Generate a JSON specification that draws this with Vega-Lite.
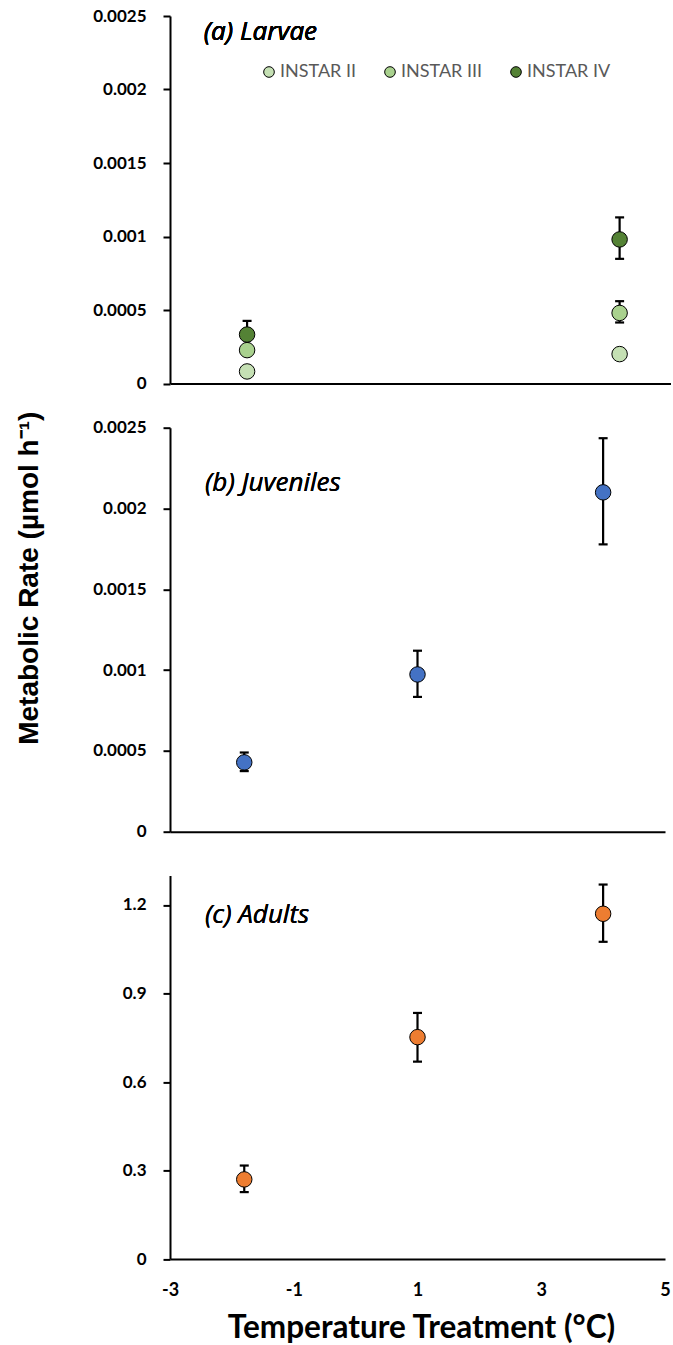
{
  "$schema": "https://vega.github.io/schema/vega-lite/v6.json",
  "background": "white",
  "padding": {"left": 15, "top": 7, "right": 0, "bottom": 0},
  "bounds": "flush",
  "spacing": 43.7,
  "config": {
    "view": {"stroke": null},
    "axis": {
      "grid": false,
      "domainColor": "#000",
      "domainWidth": 2,
      "tickColor": "#000",
      "tickWidth": 2,
      "labelFont": "Lato",
      "labelFontWeight": "bold",
      "labelColor": "#000",
      "labelFlush": false,
      "labelOverlap": false,
      "titleFont": "Lato",
      "titleColor": "#000"
    },
    "axisY": {"tickSize": 7, "labelPadding": 17, "labelFontSize": 17},
    "text": {"font": "Open Sans", "fontStyle": "italic", "fontWeight": "normal", "fontSize": 26, "color": "#000"}
  },
  "vconcat": [
    {
      "width": 501,
      "height": 367.5,
      "data": {
        "values": [
          {"stage": "INSTAR II", "temp": -1.8, "rate": 0.000082},
          {"stage": "INSTAR III", "temp": -1.8, "rate": 0.000227},
          {"stage": "INSTAR IV", "temp": -1.8, "rate": 0.000333, "lo": 0.00024, "hi": 0.000426},
          {"stage": "INSTAR II", "temp": 4, "rate": 0.0002},
          {"stage": "INSTAR III", "temp": 4, "rate": 0.00048, "lo": 0.000415, "hi": 0.00056},
          {"stage": "INSTAR IV", "temp": 4, "rate": 0.00098, "lo": 0.000848, "hi": 0.00113}
        ]
      },
      "layer": [
        {
          "transform": [{"filter": "isValid(datum.hi)"}],
          "mark": {
            "type": "errorbar",
            "color": "#000",
            "ticks": {"size": 9, "thickness": 2.2, "color": "#000", "opacity": 1},
            "rule": {"color": "#000", "strokeWidth": 2.2}
          },
          "encoding": {
            "x": {"field": "temp", "type": "quantitative", "scale": {"domain": [-3, 4.8], "nice": false, "zero": false},
                  "axis": {"labels": false, "ticks": false, "title": null}},
            "y": {"field": "lo", "type": "quantitative", "scale": {"domain": [0, 0.0025], "nice": false},
                  "axis": {"values": [0, 0.0005, 0.001, 0.0015, 0.002, 0.0025], "format": "~g", "title": null}},
            "y2": {"field": "hi"}
          }
        },
        {
          "mark": {"type": "point", "shape": "circle", "filled": true, "size": 240, "stroke": "#000", "strokeWidth": 1, "opacity": 1},
          "encoding": {
            "x": {"field": "temp", "type": "quantitative"},
            "y": {"field": "rate", "type": "quantitative"},
            "color": {
              "field": "stage", "type": "nominal",
              "scale": {"domain": ["INSTAR II", "INSTAR III", "INSTAR IV"], "range": ["#C5E0B4", "#A9D18E", "#548235"]},
              "legend": {
                "orient": "none", "legendX": 90, "legendY": 47, "direction": "horizontal", "title": null,
                "symbolType": "circle", "symbolSize": 113, "symbolStrokeColor": "#000", "symbolStrokeWidth": 1,
                "symbolOpacity": 1, "labelFont": "Lato", "labelFontSize": 18, "labelColor": "#595959",
                "labelOffset": 2, "columnPadding": 24
              }
            }
          }
        },
        {
          "mark": {"type": "text", "text": "(a) Larvae", "align": "left", "baseline": "alphabetic"},
          "encoding": {"x": {"datum": -2.475}, "y": {"datum": 0.002335}}
        }
      ]
    },
    {
      "width": 495,
      "height": 404,
      "data": {
        "values": [
          {"temp": -1.8, "rate": 0.000429, "lo": 0.000375, "hi": 0.00049},
          {"temp": 1, "rate": 0.000973, "lo": 0.000834, "hi": 0.00112},
          {"temp": 4, "rate": 0.0021, "lo": 0.001778, "hi": 0.002435}
        ]
      },
      "layer": [
        {
          "mark": {
            "type": "errorbar",
            "color": "#000",
            "ticks": {"size": 9, "thickness": 2.2, "color": "#000", "opacity": 1},
            "rule": {"color": "#000", "strokeWidth": 2.2}
          },
          "encoding": {
            "x": {"field": "temp", "type": "quantitative", "scale": {"domain": [-3, 5], "nice": false, "zero": false},
                  "axis": {"labels": false, "ticks": false, "title": null}},
            "y": {"field": "lo", "type": "quantitative", "scale": {"domain": [0, 0.0025], "nice": false},
                  "axis": {"values": [0, 0.0005, 0.001, 0.0015, 0.002, 0.0025], "format": "~g",
                           "title": "Metabolic Rate (µmol h⁻¹)", "titleFont": "Liberation Sans", "titleFontSize": 28,
                           "titleFontWeight": "bold", "titleAngle": 270, "titleX": -133, "titleY": 150,
                           "titleAlign": "center", "titleBaseline": "alphabetic"}},
            "y2": {"field": "hi"}
          }
        },
        {
          "mark": {"type": "point", "shape": "circle", "filled": true, "size": 240, "fill": "#4472C4", "color": "#4472C4", "stroke": "#000", "strokeWidth": 1, "opacity": 1},
          "encoding": {
            "x": {"field": "temp", "type": "quantitative"},
            "y": {"field": "rate", "type": "quantitative"}
          }
        },
        {
          "mark": {"type": "text", "text": "(b) Juveniles", "align": "left", "baseline": "alphabetic"},
          "encoding": {"x": {"datum": -2.435}, "y": {"datum": 0.002106}}
        }
      ]
    },
    {
      "width": 495,
      "height": 383.7,
      "data": {
        "values": [
          {"temp": -1.8, "rate": 0.27, "lo": 0.227, "hi": 0.317},
          {"temp": 1, "rate": 0.752, "lo": 0.669, "hi": 0.834},
          {"temp": 4, "rate": 1.17, "lo": 1.075, "hi": 1.269}
        ]
      },
      "layer": [
        {
          "mark": {
            "type": "errorbar",
            "color": "#000",
            "ticks": {"size": 9, "thickness": 2.2, "color": "#000", "opacity": 1},
            "rule": {"color": "#000", "strokeWidth": 2.2}
          },
          "encoding": {
            "x": {"field": "temp", "type": "quantitative", "scale": {"domain": [-3, 5], "nice": false, "zero": false},
                  "axis": {"values": [-3, -1, 1, 3, 5], "labelExpr": "toString(datum.value)", "ticks": false, "tickSize": 0, "labelPadding": 22, "labelFontSize": 18,
                           "title": "Temperature Treatment (°C)", "titleFont": "Lato", "titleFontSize": 31.5, "titleFontWeight": "bold",
                           "titleX": 251, "titleY": 78.6, "titleAlign": "center", "titleBaseline": "alphabetic"}},
            "y": {"field": "lo", "type": "quantitative", "scale": {"domain": [0, 1.3], "nice": false},
                  "axis": {"values": [0, 0.3, 0.6, 0.9, 1.2], "format": "~g", "title": null}},
            "y2": {"field": "hi"}
          }
        },
        {
          "mark": {"type": "point", "shape": "circle", "filled": true, "size": 240, "fill": "#ED7D31", "color": "#ED7D31", "stroke": "#000", "strokeWidth": 1, "opacity": 1},
          "encoding": {
            "x": {"field": "temp", "type": "quantitative"},
            "y": {"field": "rate", "type": "quantitative"}
          }
        },
        {
          "mark": {"type": "text", "text": "(c) Adults", "align": "left", "baseline": "alphabetic"},
          "encoding": {"x": {"datum": -2.435}, "y": {"datum": 1.14}}
        }
      ]
    }
  ]
}
